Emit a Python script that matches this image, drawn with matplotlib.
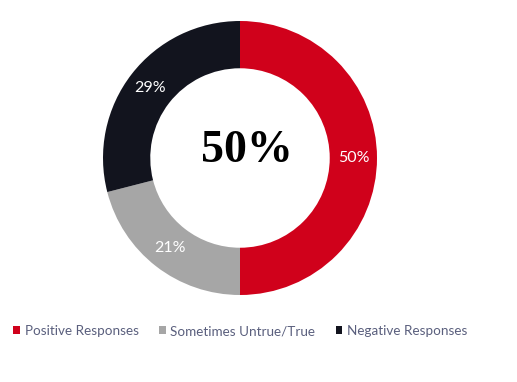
import matplotlib.pyplot as plt

# データ
categories = ["Positive Responses", "Sometimes Untrue/True", "Negative Responses"]
values = [50, 21, 29]
colors = ["#D0011B", "#A6A6A6", "#12141E"]
center_label = "50%"

fig = plt.figure(figsize=(5.17, 3.82), dpi=100)
# 円の中心 (240,158) 半径 ~137px
ax = fig.add_axes([(240 - 137) / 517, 1 - (158 + 137) / 382, 274 / 517, 274 / 382])

wedges, texts, autotexts = ax.pie(
    values, colors=colors, startangle=90, counterclock=False,
    wedgeprops=dict(width=0.345, edgecolor="none"),
    autopct="%d%%", pctdistance=0.83,
    textprops=dict(color="white", fontsize=11.5, family="Lato"))
ax.set_aspect("equal")
ax.set_xlim(-1, 1)
ax.set_ylim(-1, 1)

ax.text(0.05, 0.05, center_label, ha="center", va="center",
        fontsize=33, fontweight="bold", family="Liberation Serif", color="black")

leg = fig.legend(wedges, categories, loc="center", bbox_to_anchor=(0.465, 1 - 331 / 382),
                 ncol=3, frameon=False, handlelength=0.5, handleheight=0.5,
                 handletextpad=0.35, columnspacing=1.5,
                 prop=dict(family="Lato", size=9.7))
for t in leg.get_texts():
    t.set_color("#5A5F7D")

fig.savefig("out.png", dpi=100)
